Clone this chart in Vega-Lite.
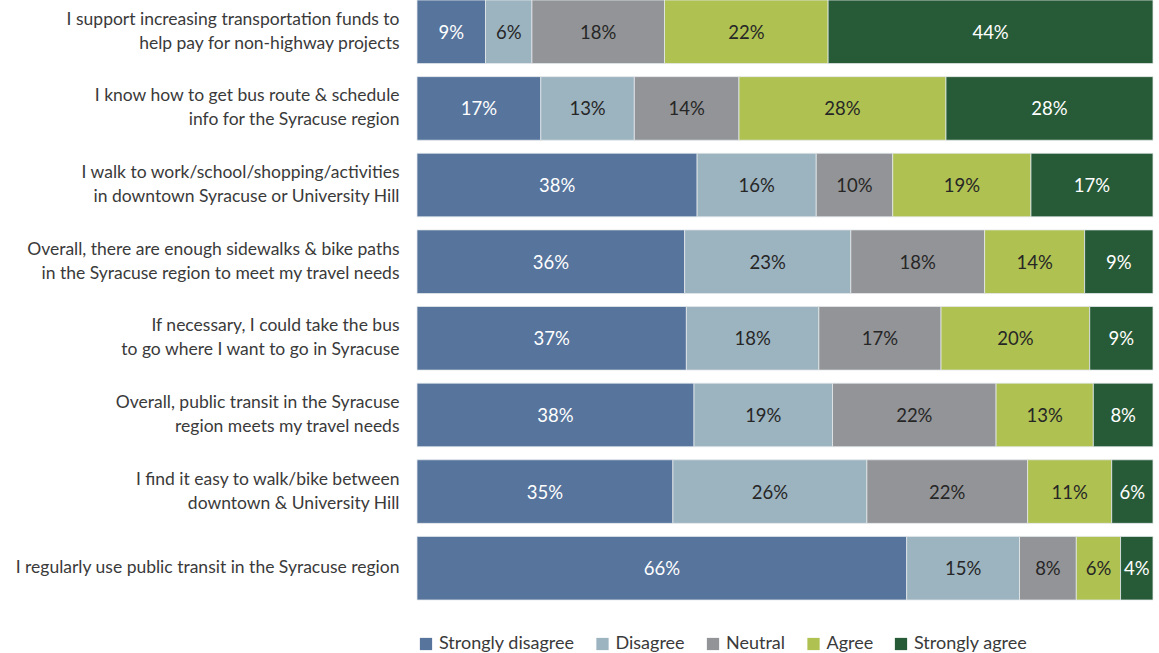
{
  "$schema": "https://vega.github.io/schema/vega-lite/v6.json",
  "width": 736,
  "height": 600,
  "autosize": {"type": "none"},
  "padding": {"left": 417, "top": 0, "right": 6, "bottom": 53},
  "background": "white",
  "config": {"view": {"stroke": null}, "font": "Lato"},
  "data": {
    "values": [
      {"q": "I support increasing transportation funds to|help pay for non-highway projects", "r": "Strongly disagree", "code": 1, "v": 0.093},
      {"q": "I support increasing transportation funds to|help pay for non-highway projects", "r": "Disagree", "code": 2, "v": 0.063},
      {"q": "I support increasing transportation funds to|help pay for non-highway projects", "r": "Neutral", "code": 3, "v": 0.180},
      {"q": "I support increasing transportation funds to|help pay for non-highway projects", "r": "Agree", "code": 4, "v": 0.222},
      {"q": "I support increasing transportation funds to|help pay for non-highway projects", "r": "Strongly agree", "code": 5, "v": 0.441},
      {"q": "I know how to get bus route & schedule|info for the Syracuse region", "r": "Strongly disagree", "code": 1, "v": 0.168},
      {"q": "I know how to get bus route & schedule|info for the Syracuse region", "r": "Disagree", "code": 2, "v": 0.127},
      {"q": "I know how to get bus route & schedule|info for the Syracuse region", "r": "Neutral", "code": 3, "v": 0.142},
      {"q": "I know how to get bus route & schedule|info for the Syracuse region", "r": "Agree", "code": 4, "v": 0.281},
      {"q": "I know how to get bus route & schedule|info for the Syracuse region", "r": "Strongly agree", "code": 5, "v": 0.281},
      {"q": "I walk to work/school/shopping/activities|in downtown Syracuse or University Hill", "r": "Strongly disagree", "code": 1, "v": 0.381},
      {"q": "I walk to work/school/shopping/activities|in downtown Syracuse or University Hill", "r": "Disagree", "code": 2, "v": 0.162},
      {"q": "I walk to work/school/shopping/activities|in downtown Syracuse or University Hill", "r": "Neutral", "code": 3, "v": 0.104},
      {"q": "I walk to work/school/shopping/activities|in downtown Syracuse or University Hill", "r": "Agree", "code": 4, "v": 0.188},
      {"q": "I walk to work/school/shopping/activities|in downtown Syracuse or University Hill", "r": "Strongly agree", "code": 5, "v": 0.166},
      {"q": "Overall, there are enough sidewalks & bike paths|in the Syracuse region to meet my travel needs", "r": "Strongly disagree", "code": 1, "v": 0.364},
      {"q": "Overall, there are enough sidewalks & bike paths|in the Syracuse region to meet my travel needs", "r": "Disagree", "code": 2, "v": 0.226},
      {"q": "Overall, there are enough sidewalks & bike paths|in the Syracuse region to meet my travel needs", "r": "Neutral", "code": 3, "v": 0.182},
      {"q": "Overall, there are enough sidewalks & bike paths|in the Syracuse region to meet my travel needs", "r": "Agree", "code": 4, "v": 0.136},
      {"q": "Overall, there are enough sidewalks & bike paths|in the Syracuse region to meet my travel needs", "r": "Strongly agree", "code": 5, "v": 0.093},
      {"q": "If necessary, I could take the bus|to go where I want to go in Syracuse", "r": "Strongly disagree", "code": 1, "v": 0.366},
      {"q": "If necessary, I could take the bus|to go where I want to go in Syracuse", "r": "Disagree", "code": 2, "v": 0.180},
      {"q": "If necessary, I could take the bus|to go where I want to go in Syracuse", "r": "Neutral", "code": 3, "v": 0.166},
      {"q": "If necessary, I could take the bus|to go where I want to go in Syracuse", "r": "Agree", "code": 4, "v": 0.202},
      {"q": "If necessary, I could take the bus|to go where I want to go in Syracuse", "r": "Strongly agree", "code": 5, "v": 0.086},
      {"q": "Overall, public transit in the Syracuse|region meets my travel needs", "r": "Strongly disagree", "code": 1, "v": 0.376},
      {"q": "Overall, public transit in the Syracuse|region meets my travel needs", "r": "Disagree", "code": 2, "v": 0.188},
      {"q": "Overall, public transit in the Syracuse|region meets my travel needs", "r": "Neutral", "code": 3, "v": 0.222},
      {"q": "Overall, public transit in the Syracuse|region meets my travel needs", "r": "Agree", "code": 4, "v": 0.132},
      {"q": "Overall, public transit in the Syracuse|region meets my travel needs", "r": "Strongly agree", "code": 5, "v": 0.081},
      {"q": "I find it easy to walk/bike between|downtown & University Hill", "r": "Strongly disagree", "code": 1, "v": 0.347},
      {"q": "I find it easy to walk/bike between|downtown & University Hill", "r": "Disagree", "code": 2, "v": 0.263},
      {"q": "I find it easy to walk/bike between|downtown & University Hill", "r": "Neutral", "code": 3, "v": 0.218},
      {"q": "I find it easy to walk/bike between|downtown & University Hill", "r": "Agree", "code": 4, "v": 0.114},
      {"q": "I find it easy to walk/bike between|downtown & University Hill", "r": "Strongly agree", "code": 5, "v": 0.056},
      {"q": "I regularly use public transit in  the Syracuse region", "r": "Strongly disagree", "code": 1, "v": 0.664},
      {"q": "I regularly use public transit in  the Syracuse region", "r": "Disagree", "code": 2, "v": 0.153},
      {"q": "I regularly use public transit in  the Syracuse region", "r": "Neutral", "code": 3, "v": 0.077},
      {"q": "I regularly use public transit in  the Syracuse region", "r": "Agree", "code": 4, "v": 0.060},
      {"q": "I regularly use public transit in  the Syracuse region", "r": "Strongly agree", "code": 5, "v": 0.044}
    ]
  },
  "encoding": {
    "y": {
      "field": "q",
      "type": "nominal",
      "sort": null,
      "title": null,
      "scale": {"paddingInner": 0.17, "paddingOuter": 0},
      "axis": {
        "domain": false,
        "ticks": false,
        "labelPadding": 18,
        "labelFont": "Lato",
        "labelFontSize": 17.5,
        "labelColor": "#3a3a3a",
        "labelExpr": "split(datum.label, '|')",
        "labelLineHeight": 24,
        "labelOffset": {"condition": {"test": "indexof(datum.label, '|') >= 0", "value": -12}, "value": 0},
        "labelLimit": 0
      }
    },
    "x": {
      "field": "v",
      "type": "quantitative",
      "stack": "normalize",
      "axis": null,
      "scale": {"domain": [0, 1]}
    },
    "order": {"field": "code", "type": "quantitative"}
  },
  "layer": [
    {
      "mark": {"type": "bar", "stroke": "#e3e8eb", "strokeWidth": 0.8},
      "encoding": {
        "color": {
          "field": "r",
          "type": "nominal",
          "sort": ["Strongly disagree", "Disagree", "Neutral", "Agree", "Strongly agree"],
          "scale": {
            "domain": ["Strongly disagree", "Disagree", "Neutral", "Agree", "Strongly agree"],
            "range": ["#56749c", "#9cb3c0", "#939497", "#afc151", "#275b37"]
          },
          "legend": {
            "title": null,
            "orient": "none",
            "legendX": 0,
            "legendY": 635,
            "direction": "horizontal",
            "symbolType": "square",
            "symbolSize": 150,
            "symbolStrokeWidth": 0,
            "symbolOpacity": 1,
            "labelFont": "Lato",
            "labelFontSize": 18,
            "labelColor": "#3a3a3a",
            "labelOffset": 4,
            "columnPadding": 18.5,
            "labelLimit": 0
          }
        }
      }
    },
    {
      "mark": {"type": "text", "font": "Lato", "fontSize": 18.5, "dy": 1},
      "encoding": {
        "x": {"field": "v", "type": "quantitative", "stack": "normalize", "bandPosition": 0.5},
        "detail": {"field": "r", "type": "nominal"},
        "text": {"field": "v", "type": "quantitative", "format": ".0%"},
        "color": {
          "condition": {"test": "datum.r === 'Strongly disagree' || datum.r === 'Strongly agree'", "value": "#ffffff"},
          "value": "#262626"
        }
      }
    }
  ]
}
